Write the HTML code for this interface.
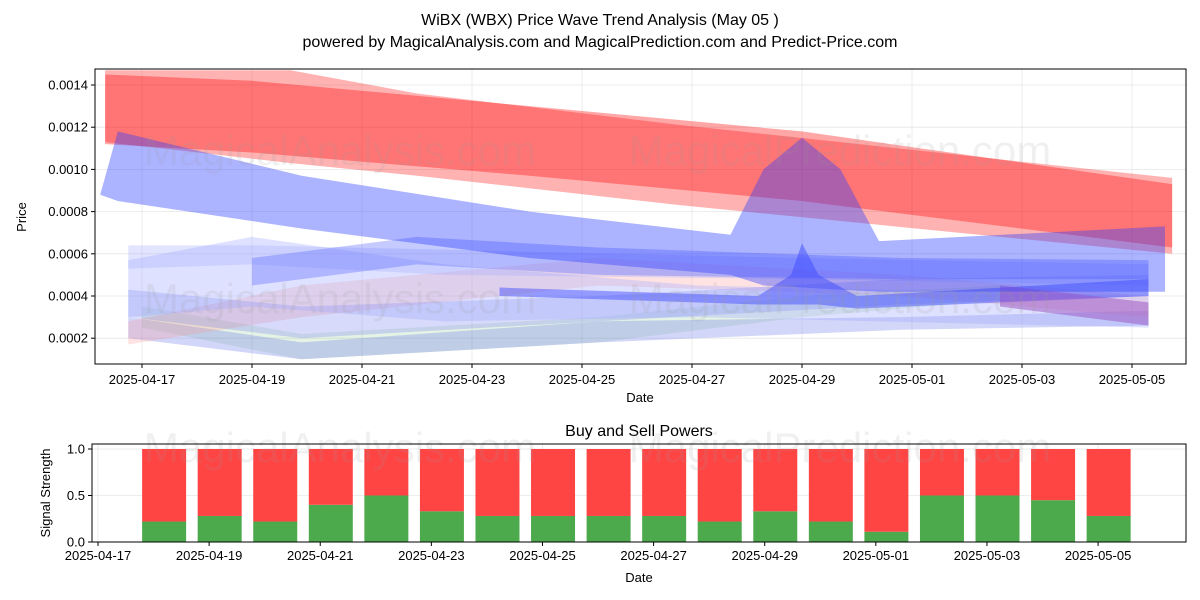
<!DOCTYPE html>
<html><head><meta charset="utf-8"><style>
body{margin:0;background:#fff;}
svg{display:block;font-family:"Liberation Sans","DejaVu Sans",sans-serif;}
</style></head><body>
<svg id="c" width="1200" height="600" viewBox="0 0 1200 600">
<text x="600" y="25" text-anchor="middle" font-size="16">WiBX (WBX) Price Wave Trend Analysis (May 05 )</text>
<text x="600" y="47" text-anchor="middle" font-size="16">powered by MagicalAnalysis.com and MagicalPrediction.com and Predict-Price.com</text>
<g id="topg"></g>
<g id="botg"></g>
</svg>
<script>
// ---- data ----
const xTickLabels=["2025-04-17","2025-04-19","2025-04-21","2025-04-23","2025-04-25","2025-04-27","2025-04-29","2025-05-01","2025-05-03","2025-05-05"];
const xTickDays=[0,2,4,6,8,10,12,14,16,18];
const yTickValues=[0.0002,0.0004,0.0006,0.0008,0.0010,0.0012,0.0014];
const bandRedLightDays=[-0.67,2.7,5,9.8,18.73];
const bandRedLightUp=[0.00147,0.00147,0.00136,0.00121,0.00096];
const bandRedLightLo=[0.00113,0.00103,0.00097,0.00083,0.00060];
const bandRedDays=[-0.67,2,7.05,12,18.73];
const bandRedUp=[0.00145,0.00142,0.0013,0.00118,0.00093];
const bandRedLo=[0.00112,0.00108,0.00097,0.00085,0.00063];
const bandBlueDays=[-0.76,-0.44,2.9,7.05,10.7,11.3,12,12.7,13.4,18.6];
const bandBlueUp=[0.00088,0.00118,0.00097,0.0008,0.00069,0.001,0.00115,0.001,0.00066,0.00073];
const bandBlueLo=[0.00088,0.00085,0.00072,0.00058,0.0005,0.00045,0.00044,0.00043,0.00042,0.00042];
const bandB3Days=[-0.25,2,5.5,12,18.3];
const bandB3Up=[0.00064,0.00064,0.00062,0.00058,0.00055];
const bandB3Lo=[0.00053,0.00055,0.0005,0.00048,0.00045];
const bandB4Days=[-0.25,2,5.5,10.1,18.3];
const bandB4Up=[0.00057,0.00068,0.00055,0.00045,0.0004];
const bandB4Lo=[0.0003,0.00035,0.00028,0.0003,0.00025];
const bandB5Days=[2,5,8.3,13.8,18.3];
const bandB5Up=[0.00058,0.00068,0.00063,0.00058,0.00057];
const bandB5Lo=[0.00045,0.00055,0.0005,0.00048,0.00048];
const bandB6Days=[-0.25,2.9,8.3,13.8,18.3];
const bandB6Up=[0.00043,0.00035,0.0004,0.00048,0.0005];
const bandB6Lo=[0.0003,0.0002,0.00028,0.00036,0.0004];
const bandB7Days=[6.5,11.2,11.8,12,12.3,13,18.3];
const bandB7Up=[0.00044,0.0004,0.0005,0.00065,0.0005,0.0004,0.00048];
const bandB7Lo=[0.0004,0.00036,0.00036,0.00036,0.00036,0.00034,0.0004];
const bandPurpleDays=[15.6,18.3];
const bandPurpleUp=[0.00045,0.00037];
const bandPurpleLo=[0.00035,0.00026];
const bandGreenDays=[0,2.9,8.3,12,15.6];
const bandGreenUp=[0.00035,0.00022,0.0003,0.0004,0.00045];
const bandGreenLo=[0.00025,0.0001,0.00018,0.0003,0.00038];
const bandPinkDays=[-0.25,2.9,8.3,13.8,18.3];
const bandPinkUp=[0.00028,0.00045,0.00058,0.0005,0.0004];
const bandPinkLo=[0.00017,0.0003,0.00045,0.0004,0.0003];
const bandLowDays=[-0.25,2.9,8.3,13.8,18.3];
const bandLowUp=[0.0003,0.00018,0.00028,0.0003,0.00033];
const bandLowLo=[0.0002,0.0001,0.00018,0.00024,0.00026];
const barDays=[1,2,3,4,5,6,7,8,9,10,11,12,13,14,15,16,17,18];
const buyValues=[0.22,0.28,0.22,0.4,0.5,0.33,0.28,0.28,0.28,0.28,0.22,0.33,0.22,0.11,0.5,0.5,0.45,0.28];
const sellValues=[0.78,0.72,0.78,0.6,0.5,0.67,0.72,0.72,0.72,0.72,0.78,0.67,0.78,0.89,0.5,0.5,0.55,0.72];
const sigTicks=[0,0.5,1.0];
const sigTickLabels=["0.0","0.5","1.0"];

const NS="http://www.w3.org/2000/svg";
function mk(p,t,a){const e=document.createElementNS(NS,t);for(const k in a)e.setAttribute(k,a[k]);p.appendChild(e);return e;}
const T={l:95,r:1186,t:69,b:364};
const tx=d=>142+d*55;
const ty=v=>85+(0.0014-v)/0.0002*42.2;
const B={l:92,r:1186,t:444,b:542};
const bx=d=>98+d*55.56;
const by=v=>542-v*93;
const barOffset=0.19;
const topG=document.getElementById('topg'),botG=document.getElementById('botg');

xTickDays.forEach((d,i)=>{
 const g=mk(topG,'line',{x1:tx(d),x2:tx(d),y1:T.t,y2:T.b,stroke:'#b0b0b0','stroke-opacity':0.3,'stroke-width':0.8});
 
 const t=mk(topG,'line',{x1:tx(d),x2:tx(d),y1:T.b,y2:T.b+4,stroke:'#000'});
 
 const l=mk(topG,'text',{x:tx(d),y:T.b+20,'text-anchor':'middle','font-size':13});l.textContent=xTickLabels[i];
 
});
yTickValues.forEach(v=>{
 const g=mk(topG,'line',{x1:T.l,x2:T.r,y1:ty(v),y2:ty(v),stroke:'#b0b0b0','stroke-opacity':0.3,'stroke-width':0.8});
 
 const t=mk(topG,'line',{x1:T.l-4,x2:T.l,y1:ty(v),y2:ty(v),stroke:'#000'});
 
 const l=mk(topG,'text',{x:T.l-7,y:ty(v)+4.5,'text-anchor':'end','font-size':13});l.textContent=v.toFixed(4);
 
});
const clip=mk(topG,'clipPath',{id:'cp'});mk(clip,'rect',{x:T.l,y:T.t,width:T.r-T.l,height:T.b-T.t});
const bandG=mk(topG,'g',{'clip-path':'url(#cp)'});

function band(name,days,up,lo,color,op){
 const pts=days.map((d,i)=>tx(d)+','+ty(up[i])).concat(days.map((d,i)=>tx(d)+','+ty(lo[i])).reverse());
 const p=mk(bandG,'polygon',{points:pts.join(' '),fill:color,'fill-opacity':op});
 
}
band('band-green',bandGreenDays,bandGreenUp,bandGreenLo,'#4caf50',0.15);
band('band-low',bandLowDays,bandLowUp,bandLowLo,'#6a78e8',0.3);
band('band-pink',bandPinkDays,bandPinkUp,bandPinkLo,'#ff9090',0.25);
band('band-b6',bandB6Days,bandB6Up,bandB6Lo,'#7a86f0',0.3);
band('band-b4',bandB4Days,bandB4Up,bandB4Lo,'#a0a8ff',0.35);
band('band-b3',bandB3Days,bandB3Up,bandB3Lo,'#a0a8ff',0.3);
band('band-b5',bandB5Days,bandB5Up,bandB5Lo,'#5a66ff',0.35);
band('band-b7',bandB7Days,bandB7Up,bandB7Lo,'#3a44ff',0.45);
band('band-purple',bandPurpleDays,bandPurpleUp,bandPurpleLo,'#9a50c0',0.5);
band('band-red-light',bandRedLightDays,bandRedLightUp,bandRedLightLo,'#ff0000',0.3);
band('band-red',bandRedDays,bandRedUp,bandRedLo,'#ff0000',0.35);
band('band-blue',bandBlueDays,bandBlueUp,bandBlueLo,'#3040ff',0.4);
[[340,165],[840,165],[340,313],[840,313]].forEach((p,i)=>{
 const w=mk(topG,'text',{x:p[0],y:p[1],'text-anchor':'middle','font-size':42,fill:'#999','fill-opacity':0.15});
 w.textContent=i%2?'MagicalPrediction.com':'MagicalAnalysis.com';
 
});
const fr=mk(topG,'rect',{x:T.l,y:T.t,width:T.r-T.l,height:T.b-T.t,fill:'none',stroke:'#000','stroke-width':1});

let e=mk(topG,'text',{x:640,y:402,'text-anchor':'middle','font-size':13});e.textContent='Date';

e=mk(topG,'text',{x:26,y:217,'text-anchor':'middle','font-size':13,transform:'rotate(-90 26 217)'});e.textContent='Price';


e=mk(botG,'text',{x:639,y:436,'text-anchor':'middle','font-size':16});e.textContent='Buy and Sell Powers';

sigTicks.forEach((v,i)=>{
 const g=mk(botG,'line',{x1:B.l,x2:B.r,y1:by(v),y2:by(v),stroke:'#b0b0b0','stroke-opacity':0.3,'stroke-width':0.8});
 
 const t=mk(botG,'line',{x1:B.l-4,x2:B.l,y1:by(v),y2:by(v),stroke:'#000'});
 
 const l=mk(botG,'text',{x:B.l-7,y:by(v)+4.5,'text-anchor':'end','font-size':13});l.textContent=sigTickLabels[i];
 
});
xTickDays.forEach((d,i)=>{
 const g=mk(botG,'line',{x1:bx(d),x2:bx(d),y1:B.t,y2:B.b,stroke:'#b0b0b0','stroke-opacity':0.3,'stroke-width':0.8});
 
 const t=mk(botG,'line',{x1:bx(d),x2:bx(d),y1:B.b,y2:B.b+4,stroke:'#000'});
 
 const l=mk(botG,'text',{x:bx(d),y:B.b+18,'text-anchor':'middle','font-size':13});l.textContent=xTickLabels[i];
 
});
barDays.forEach((d,i)=>{
 const w=44,x=bx(d+barOffset)-w/2;
 const g=mk(botG,'rect',{x:x,y:by(buyValues[i]),width:w,height:by(0)-by(buyValues[i]),fill:'#4caa4c'});
 
 const r=mk(botG,'rect',{x:x,y:by(buyValues[i]+sellValues[i]),width:w,height:by(buyValues[i])-by(buyValues[i]+sellValues[i]),fill:'#ff4444'});
 
});
[[340,462],[840,462]].forEach((p,i)=>{
 const w=mk(botG,'text',{x:p[0],y:p[1],'text-anchor':'middle','font-size':42,fill:'#999','fill-opacity':0.15});
 w.textContent=i?'MagicalPrediction.com':'MagicalAnalysis.com';
 
});
e=mk(botG,'rect',{x:B.l,y:B.t,width:B.r-B.l,height:B.b-B.t,fill:'none',stroke:'#000'});

e=mk(botG,'text',{x:639,y:582,'text-anchor':'middle','font-size':13});e.textContent='Date';

e=mk(botG,'text',{x:50,y:493,'text-anchor':'middle','font-size':13,transform:'rotate(-90 50 493)'});e.textContent='Signal Strength';

</script>
</body></html>
